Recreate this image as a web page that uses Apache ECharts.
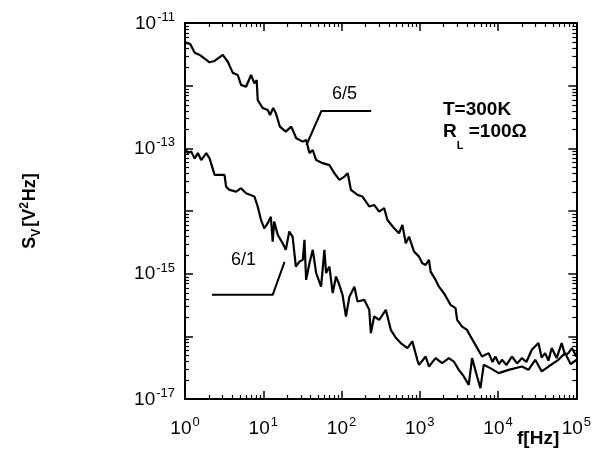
<!DOCTYPE html>
<html>
<head>
<meta charset="utf-8">
<script src="https://cdn.jsdelivr.net/npm/echarts@6/dist/echarts.min.js"></script>
<style>
html,body{margin:0;padding:0;background:#fff;}
#c{width:594px;height:453px;}
</style>
</head>
<body>
<div id="c"></div>
<script>
// ---- data (log-log noise spectra) ----
const freq65 = [1, 1.17, 1.33, 1.54, 2.06, 2.39, 3.04, 3.52, 4.08, 4.72, 5.2, 6.03, 6.98, 7.71, 8.24, 8.49, 9.83, 11.4, 12.2, 13.4, 14.5, 16.3, 19.4, 22.8, 26.4, 32.0, 35.3, 38.9, 42.9, 47.4, 57.5, 70, 81, 94, 109, 120, 132, 160, 185, 205, 226, 261, 303, 350, 386, 470, 543, 599, 662, 729, 844, 977, 1076, 1189, 1309, 1376, 1592, 1755, 2031, 2472, 2862, 3000, 3474, 4018, 4225, 5140, 6237, 7586, 8500, 9248, 10300, 11220, 12800, 15030, 17500, 20140, 23000, 26990, 32860, 36000, 39990, 44000, 48530, 56000, 65040, 72000, 79070, 88000, 100000];
const sv65 = [4.9e-12, 4.6e-12, 3.36e-12, 3.09e-12, 2.36e-12, 2.48e-12, 3.09e-12, 2.41e-12, 1.6e-12, 1.48e-12, 1.03e-12, 9.6e-13, 1.48e-12, 1.09e-12, 1.23e-12, 5.9e-13, 4.4e-13, 4.1e-13, 3.41e-13, 4.4e-13, 3.63e-13, 2.22e-13, 1.85e-13, 2.22e-13, 1.45e-13, 1.28e-13, 1.36e-13, 8.4e-14, 9.4e-14, 6.5e-14, 5.8e-14, 5.4e-14, 4.0e-14, 3.13e-14, 3.54e-14, 4.0e-14, 2.17e-14, 1.81e-14, 1.7e-14, 1.41e-14, 1.18e-14, 1.25e-14, 9.8e-15, 1.11e-14, 7.2e-15, 5.3e-15, 4.4e-15, 6.0e-15, 3.06e-15, 3.9e-15, 2.25e-15, 1.87e-15, 1.47e-15, 1.38e-15, 1.66e-15, 1.08e-15, 7.96e-16, 6.2e-16, 4.9e-16, 3.18e-16, 2.82e-16, 1.83e-16, 1.43e-16, 1.27e-16, 1.12e-16, 7.3e-17, 4.76e-17, 5.4e-17, 3.9e-17, 4.76e-17, 3.6e-17, 4.22e-17, 3.5e-17, 4.76e-17, 3.7e-17, 4.49e-17, 3.9e-17, 6.1e-17, 7.8e-17, 4.6e-17, 5.4e-17, 4.1e-17, 6.5e-17, 4.5e-17, 7.8e-17, 5.0e-17, 5.4e-17, 6.5e-17, 4.76e-17];

const freq61 = [1, 1.09, 1.2, 1.33, 1.46, 1.61, 1.87, 2.06, 2.39, 3.2, 3.35, 3.7, 4.5, 5.2, 6.03, 7.71, 8.49, 9.35, 10.3, 11.4, 12.5, 13.2, 13.8, 15.3, 17.7, 19.4, 21.5, 23.7, 26.1, 29.0, 32.0, 33.6, 35.3, 38.9, 42.9, 47.4, 54.8, 60.4, 63.5, 70, 77.1, 85.1, 93.8, 103, 114, 126, 146, 160, 195, 226, 237, 261, 303, 368, 426, 494, 571, 694, 803, 929, 977, 1189, 1309, 1592, 1932, 2353, 2723, 3155, 3650, 4225, 4656, 5395, 5957, 6561, 7980, 10180, 13650, 20140, 24490, 29840, 36220, 44040, 59020, 71780, 85000, 100000];
const sv61 = [1.0e-13, 8.4e-14, 8.9e-14, 6.9e-14, 8.4e-14, 6.5e-14, 8.4e-14, 6.9e-14, 3.77e-14, 3.77e-14, 2.45e-14, 2.17e-14, 2.04e-14, 2.31e-14, 1.92e-14, 1.7e-14, 1.18e-14, 7.2e-15, 5.3e-15, 6.4e-15, 8.1e-15, 3.25e-15, 6.8e-15, 4.16e-15, 3.06e-15, 2.4e-15, 4.7e-15, 3.9e-15, 1.3e-15, 1.56e-15, 1.66e-15, 3.46e-15, 7.96e-16, 1.47e-15, 2.4e-15, 1.02e-15, 6.2e-16, 2.4e-15, 1.02e-15, 1.3e-15, 4.9e-16, 9.0e-16, 6.6e-16, 4.6e-16, 2.07e-16, 4.3e-16, 6.2e-16, 3.59e-16, 3.82e-16, 2.65e-16, 1.12e-16, 2.07e-16, 1.83e-16, 2.65e-16, 1.27e-16, 9.5e-17, 7.8e-17, 6.5e-17, 8.3e-17, 4.22e-17, 3.51e-17, 4.76e-17, 3.3e-17, 4.49e-17, 3.74e-17, 4.49e-17, 3.96e-17, 2.92e-17, 2.29e-17, 1.68e-17, 4.49e-17, 2.29e-17, 1.49e-17, 3.51e-17, 3.11e-17, 2.59e-17, 2.92e-17, 3.3e-17, 2.92e-17, 4.22e-17, 2.75e-17, 3.3e-17, 4.22e-17, 5.4e-17, 3.6e-17, 4.22e-17];

// annotation leader lines (data coordinates)
const leader65 = [[35.6, 1.13e-13], [55.3, 3.94e-13], [239, 3.94e-13]];
const leader61 = [[2.21, 4.59e-16], [13.2, 4.59e-16], [18.7, 1.54e-15]];

const xMin = 1, xMax = 1e5, yMin = 1e-17, yMax = 1e-11;

const FONT = '"Liberation Sans", Arial, Helvetica, sans-serif';

function pairs(xs, ys) { return xs.map((x, i) => [x, ys[i]]); }
function expOf(v) { return Math.round(Math.log10(v)); }

const chart = echarts.init(document.getElementById('c'), null, {renderer: 'canvas'});

const tickLabelRich = {
  b: {fontSize: 19, fontFamily: FONT, color: '#000', verticalAlign: 'bottom', lineHeight: 20},
  s: {fontSize: 13, fontFamily: FONT, color: '#000', verticalAlign: 'bottom', lineHeight: 20, padding: [0, 0, 9, 1]}
};

const axisCommon = {
  type: 'log', logBase: 10,
  axisLine: {show: true, lineStyle: {color: '#000', width: 2}},
  axisTick: {show: true, inside: true, length: 8, lineStyle: {color: '#000', width: 1.5}},
  minorTick: {show: false},
  splitLine: {show: false},
  minorSplitLine: {show: false}
};

const option = {
  backgroundColor: '#fff',
  animation: false,
  grid: {left: 185, top: 23, right: 16, bottom: 54, containLabel: false},
  xAxis: [
    Object.assign({}, axisCommon, {
      position: 'bottom', min: xMin, max: xMax,
      axisLabel: {
        show: true, margin: 19, rich: tickLabelRich,
        formatter: v => '{b|10}{s|' + expOf(v) + '}'
      }
    }),
    Object.assign({}, axisCommon, {
      position: 'top', min: xMin, max: xMax, axisLabel: {show: false}
    })
  ],
  yAxis: [
    Object.assign({}, axisCommon, {
      position: 'left', min: yMin, max: yMax,
      name: '{m|S}{sub|V}{m|[V}{sup|2}{m|Hz]}',
      nameLocation: 'middle', nameRotate: 90, nameGap: 146,
      nameTextStyle: {
        rich: {
          m: {fontSize: 18, fontWeight: 'bold', fontFamily: FONT, color: '#000', verticalAlign: 'bottom', lineHeight: 22},
          sub: {fontSize: 12, fontWeight: 'bold', fontFamily: FONT, color: '#000', verticalAlign: 'bottom', lineHeight: 22, padding: [0, 2, -4, 0]},
          sup: {fontSize: 12, fontWeight: 'bold', fontFamily: FONT, color: '#000', verticalAlign: 'bottom', lineHeight: 22, padding: [0, 1, 8, 0]}
        }
      },
      axisLabel: {
        show: true, margin: 10, rich: tickLabelRich,
        formatter: v => { const e = expOf(v); return (e % 2 !== 0) ? '{b|10}{s|' + e + '}' : ''; }
      }
    }),
    Object.assign({}, axisCommon, {
      position: 'right', min: yMin, max: yMax, axisLabel: {show: false}
    })
  ],
  series: [
    {type: 'line', name: '6/5', data: pairs(freq65, sv65), showSymbol: false, symbol: 'none',
     lineStyle: {color: '#000', width: 2.2}, xAxisIndex: 0, yAxisIndex: 0, z: 3},
    {type: 'line', name: '6/1', data: pairs(freq61, sv61), showSymbol: false, symbol: 'none',
     lineStyle: {color: '#000', width: 2.2}, xAxisIndex: 0, yAxisIndex: 0, z: 3},
    {type: 'line', data: leader65, showSymbol: false, symbol: 'none',
     lineStyle: {color: '#000', width: 2}, xAxisIndex: 0, yAxisIndex: 0},
    {type: 'line', data: leader61, showSymbol: false, symbol: 'none',
     lineStyle: {color: '#000', width: 2}, xAxisIndex: 0, yAxisIndex: 0}
  ]
};

chart.setOption(option);

// texts + minor ticks (2..9 x 10^n) on all four sides, placed through the axes
const gfx = [
  {type: 'text', left: 332, top: 85, style: {text: '6/5', font: '18px ' + FONT, fill: '#000'}},
  {type: 'text', left: 231, top: 251, style: {text: '6/1', font: '18px ' + FONT, fill: '#000'}},
  {type: 'text', left: 443, top: 100, style: {text: 'T=300K', font: 'bold 19px ' + FONT, fill: '#000'}},
  {type: 'text', left: 443, top: 122, style: {
    text: '{r|R}{sub|L}{r| =100Ω}',
    rich: {
      r: {font: 'bold 19px ' + FONT, fill: '#000', verticalAlign: 'top', lineHeight: 20},
      sub: {font: 'bold 11px ' + FONT, fill: '#000', verticalAlign: 'bottom', lineHeight: 29}
    }
  }},
  {type: 'text', left: 517, top: 429, style: {text: 'f[Hz]', font: 'bold 19px ' + FONT, fill: '#000'}}
];
const L = 4;
const st = {stroke: '#000', lineWidth: 1.2};
const pBL = chart.convertToPixel({gridIndex: 0}, [xMin, yMin]);
const pTR = chart.convertToPixel({gridIndex: 0}, [xMax, yMax]);
for (let e = 0; e < 5; e++) {
  for (let k = 2; k <= 9; k++) {
    const p = chart.convertToPixel({gridIndex: 0}, [k * Math.pow(10, e), yMin]);
    const x = Math.round(p[0]) + 0.5;
    gfx.push({type: 'line', silent: true, shape: {x1: x, y1: pBL[1], x2: x, y2: pBL[1] - L}, style: st});
    gfx.push({type: 'line', silent: true, shape: {x1: x, y1: pTR[1], x2: x, y2: pTR[1] + L}, style: st});
  }
}
for (let e = -17; e < -11; e++) {
  for (let k = 2; k <= 9; k++) {
    const p = chart.convertToPixel({gridIndex: 0}, [xMin, k * Math.pow(10, e)]);
    const y = Math.round(p[1]) + 0.5;
    gfx.push({type: 'line', silent: true, shape: {x1: pBL[0], y1: y, x2: pBL[0] + L, y2: y}, style: st});
    gfx.push({type: 'line', silent: true, shape: {x1: pTR[0], y1: y, x2: pTR[0] - L, y2: y}, style: st});
  }
}
chart.setOption({graphic: gfx});
</script>
</body>
</html>
